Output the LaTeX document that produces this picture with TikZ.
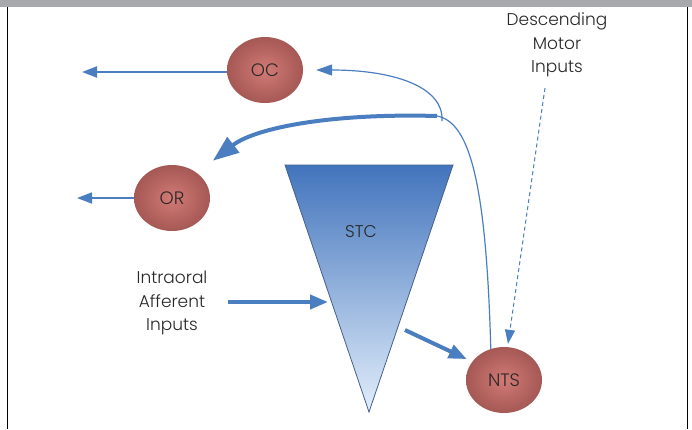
\documentclass[tikz,border=0pt]{standalone}
\usepackage{fontspec}
\setmainfont{Poppins}[UprightFont=* Light]
\usetikzlibrary{arrows.meta,shapes.geometric}
\definecolor{arrowblue}{RGB}{74,126,192}
\definecolor{ballout}{RGB}{165,88,84}
\definecolor{ballin}{RGB}{210,122,118}
\definecolor{bargray}{RGB}{167,169,172}
\definecolor{stctop}{RGB}{66,116,188}
\definecolor{stcmid}{RGB}{92,142,210}
\definecolor{stcbot}{RGB}{226,238,251}
\definecolor{stcedge}{RGB}{70,95,140}
\definecolor{labelgray}{RGB}{40,40,40}
\tikzset{
  ball/.style={ellipse, minimum width=76bp, minimum height=66bp, inner sep=0pt,
    inner color=ballin, outer color=ballout, text=labelgray,
    font=\fontsize{18bp}{21bp}\selectfont},
  lbl/.style={align=center, text=labelgray, font=\fontsize{17bp}{23.5bp}\selectfont},
  thinarrow/.style={draw=arrowblue, line width=1.8bp, -{Triangle[length=15bp,width=11bp]}},
  thickarrow/.style={draw=arrowblue, line width=4bp, -{Triangle[length=18bp,width=14bp]}},
  curvethin/.style={draw=arrowblue, line width=1.2bp},
  dasharrow/.style={draw=arrowblue, line width=1bp, dash pattern=on 4bp off 3bp,
    -{Triangle[length=14bp,width=10bp]}}
}
\begin{document}
\begin{tikzpicture}[x=1bp,y=-1bp]
\useasboundingbox (0,0) rectangle (692,429);
\fill[white] (0,0) rectangle (692,429);
\fill[bargray] (0,0) rectangle (692,7);
\draw[line width=1bp] (7,7) -- (7,429);
\draw[line width=1bp] (687,7) -- (687,429);

% triangle STC
\coordinate (tl) at (285,165);
\coordinate (tr) at (453,165);
\coordinate (tb) at (369,412);
\shade[top color=stctop, middle color=stcmid, bottom color=stcbot]
  (tl) -- (tr) -- (tb) -- cycle;
\draw[stcedge, line width=0.8bp] (tl) -- (tr) -- (tb) -- cycle;
\node[text=labelgray, font=\fontsize{17bp}{20bp}\selectfont] (STC) at (361,232) {STC};
\coordinate (stcin) at (328,302);
\coordinate (stcout) at (405,330);

% balls
\node[ball] (OC) at (265,70) {OC};
\node[ball] (OR) at (172,198) {OR};
\node[ball] (NTS) at (504,380) {NTS};

% labels
\node[lbl] (intra) at (172,303) {Intraoral\\Afferent\\Inputs};
\node[lbl] (desc) at (557,45) {Descending\\Motor\\Inputs};

% free ends
\coordinate (ocout) at (82,72);
\coordinate (orout) at (77,198);
\coordinate (J) at (437,116);
\coordinate (Jb) at (442,121);

% connectors
\draw[thinarrow] (OC.west |- ocout) -- (ocout);
\draw[thinarrow] (OR.west) -- (orout);
\draw[thickarrow] (228,302) -- (stcin);
\draw[thickarrow, shorten >=6bp] (stcout) -- (NTS.150);
\draw[curvethin] (NTS.113) .. controls (486,175) and (468,122) .. (J);
\draw[curvethin, -{Triangle[length=16bp,width=11bp]}, shorten >=13bp]
  (Jb) .. controls (444,86) and (392,70) .. (OC.east);
\draw[draw=arrowblue, line width=4bp, -{Triangle[length=26bp,width=19bp]}, shorten >=20bp]
  (J) .. controls (330,113) and (255,128) .. (OR.45);
\draw[dasharrow] (545,88) -- ([xshift=4bp,yshift=3bp]NTS.north);
\end{tikzpicture}
\end{document}
